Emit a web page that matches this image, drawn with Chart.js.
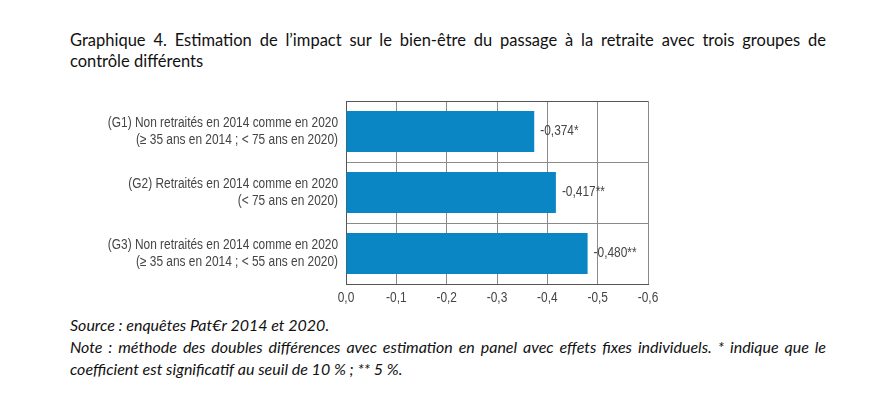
<!DOCTYPE html>
<html lang="fr">
<head>
<meta charset="utf-8">
<script src="https://cdn.jsdelivr.net/npm/chart.js@4.4.1/dist/chart.umd.min.js"></script>
<style>
  html, body { margin: 0; padding: 0; background: #fff; }
  body { width: 888px; height: 395px; position: relative; overflow: hidden; }
  .titre, .notes {
    position: absolute; left: 70px; width: 756px; color: #111;
    font-family: Lato, 'Open Sans', sans-serif;
  }
  .titre { top: 30px; font-size: 16.5px; line-height: 21px; }
  .notes { top: 314px; font-style: italic; font-size: 16px; line-height: 22px; }
  .justifiee { text-align: justify; text-align-last: justify; white-space: nowrap; }
  #zone { position: absolute; left: 0; top: 90px; width: 680px; height: 220px; }
</style>
</head>
<body>
<div class="titre">
  <div class="justifiee">Graphique 4. Estimation de l’impact sur le bien-être du passage à la retraite avec trois groupes de</div>
  <div>contrôle différents</div>
</div>
<div id="zone"><canvas id="graphique"></canvas></div>
<div class="notes">
  <div>Source : enquêtes Pat€r 2014 et 2020.</div>
  <div class="justifiee">Note : méthode des doubles différences avec estimation en panel avec effets fixes individuels. * indique que le</div>
  <div>coefficient est significatif au seuil de 10 % ; ** 5 %.</div>
</div>

<script>
// Données
const groupes = [
    ['(G1) Non retraités en 2014 comme en 2020', '(≥ 35 ans en 2014 ; < 75 ans en 2020)'],
    ['(G2) Retraités en 2014 comme en 2020', '(< 75 ans en 2020)'],
    ['(G3) Non retraités en 2014 comme en 2020', '(≥ 35 ans en 2014 ; < 55 ans en 2020)']
];
const coefficients = [-0.374, -0.417, -0.480];
const significativite = ['*', '**', '**'];
const graduations = [0, -0.1, -0.2, -0.3, -0.4, -0.5, -0.6];

const gris = '#444';
const policeCanvas = "14px 'Liberation Sans', Arial, sans-serif";
const serrage = 0.85; // écrasement horizontal pour imiter une police condensée

function virgule(v, n) {
    return v.toFixed(n).replace('.', ',');
}

function texteEtroit(ctx, txt, x, y, align) {
    ctx.save();
    ctx.translate(x, y);
    ctx.scale(serrage, 1);
    ctx.textAlign = align;
    ctx.fillText(txt, 0, 0);
    ctx.restore();
}

// Libellés des axes et valeurs au bout des barres
const textes = {
    id: 'textes',
    afterDraw(chart) {
        const ctx = chart.ctx;
        const xs = chart.scales.x;
        const ys = chart.scales.y;
        ctx.save();
        ctx.font = policeCanvas;
        ctx.fillStyle = gris;
        ctx.textBaseline = 'middle';

        groupes.forEach((lignes, i) => {
            const y = ys.getPixelForValue(i);
            texteEtroit(ctx, lignes[0], ys.right - 8, y - 8.5, 'right');
            texteEtroit(ctx, lignes[1], ys.right - 8, y + 8.5, 'right');
        });

        graduations.forEach(v => {
            texteEtroit(ctx, virgule(v, 1), xs.getPixelForValue(v), xs.top + 14, 'center');
        });

        chart.getDatasetMeta(0).data.forEach((barre, i) => {
            texteEtroit(ctx, virgule(coefficients[i], 3) + significativite[i], barre.x + 6, barre.y, 'left');
        });
        ctx.restore();
    }
};

new Chart(document.getElementById('graphique'), {
    type: 'bar',
    data: {
        labels: groupes,
        datasets: [{
            data: coefficients,
            backgroundColor: '#0A86C4',
            borderWidth: 0,
            categoryPercentage: 1,
            barPercentage: 0.67
        }]
    },
    options: {
        indexAxis: 'y',
        responsive: true,
        maintainAspectRatio: false,
        animation: false,
        layout: { padding: { top: 11, right: 32, bottom: 0, left: 0 } },
        plugins: {
            legend: { display: false },
            tooltip: { enabled: false }
        },
        scales: {
            x: {
                min: -0.6,
                max: 0,
                reverse: true,
                afterBuildTicks(scale) {
                    scale.ticks = graduations.map(v => ({ value: v }));
                },
                afterFit(scale) {
                    scale.height = 26;
                    scale.paddingLeft = 0;
                    scale.paddingRight = 0;
                },
                ticks: { display: false },
                grid: { color: '#8a8a8a', lineWidth: 1, drawTicks: false },
                border: { display: true, color: '#555', width: 1 }
            },
            y: {
                afterFit(scale) {
                    scale.width = 346;
                    scale.paddingTop = 0;
                    scale.paddingBottom = 0;
                },
                ticks: { display: false },
                grid: {
                    offset: true,
                    drawTicks: false,
                    lineWidth: 1,
                    color: ctx => ctx.index === 0 ? '#555' : '#8a8a8a'
                },
                border: { display: true, color: '#555', width: 1 }
            }
        }
    },
    plugins: [textes]
});
</script>
</body>
</html>
